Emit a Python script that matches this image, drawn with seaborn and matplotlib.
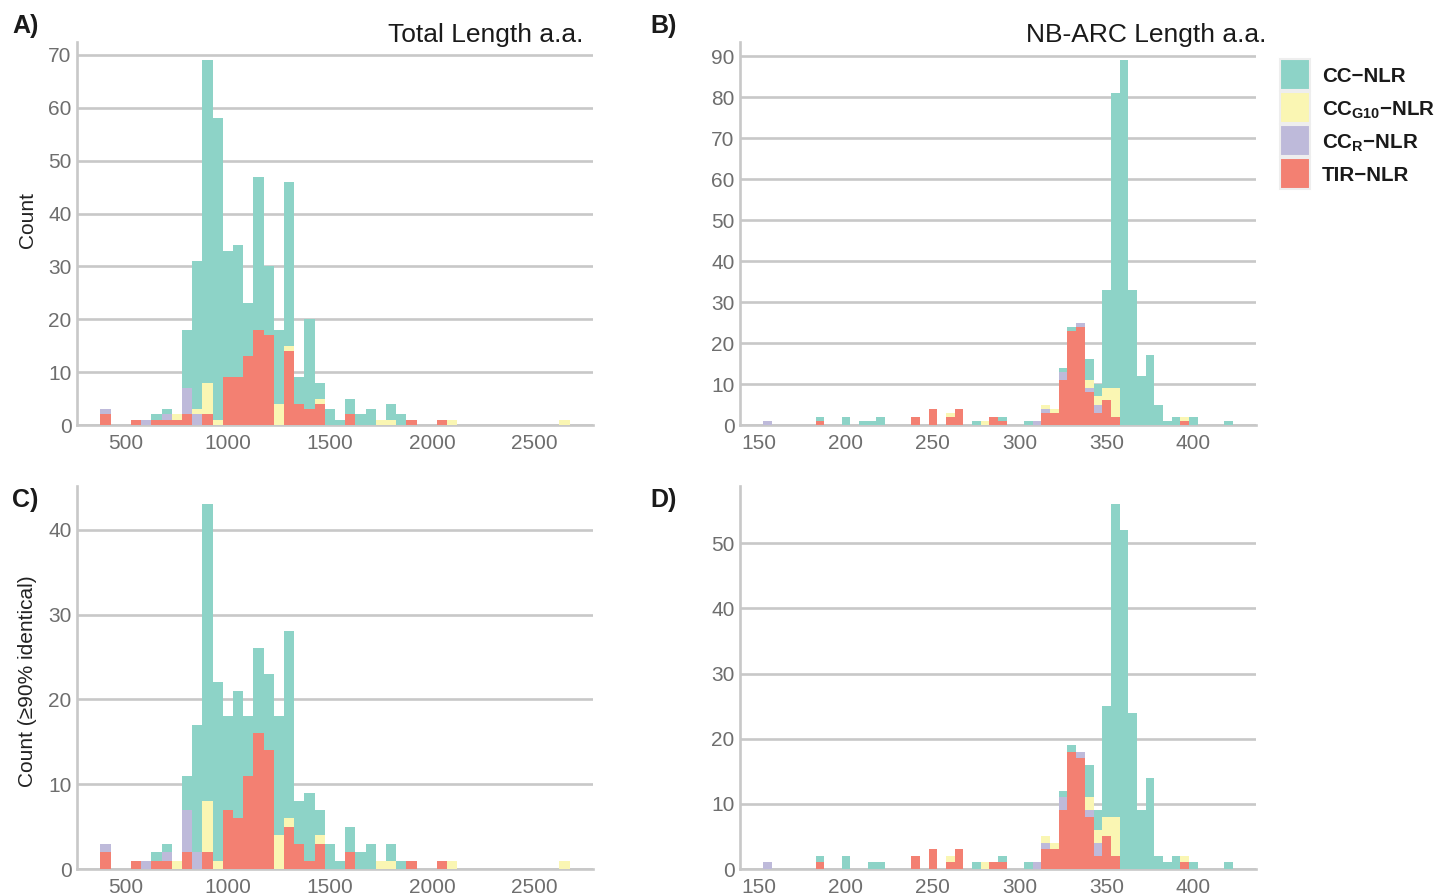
import matplotlib
matplotlib.use('Agg')
import matplotlib.pyplot as plt
from matplotlib.patches import Rectangle
from matplotlib.ticker import MultipleLocator
import pandas as pd
import seaborn as sns

# classes, bottom of the stack is the last one
classes = ['CC-NLR', 'CCG10-NLR', 'CCR-NLR', 'TIR-NLR']
colors = ['#8DD3C7', '#FAF6B3', '#BEBADA', '#F38072']
legend_labels = ['CC\u2212NLR', r'CC$_{\mathbf{G10}}$' + '\u2212NLR',
                 r'CC$_{\mathbf{R}}$' + '\u2212NLR', 'TIR\u2212NLR']

# counts per bin centre
# A) total length, all sequences (bins of 50 a.a.)
tot_cc = {650: 1, 700: 1, 800: 11, 850: 28, 900: 61, 950: 57, 1000: 24, 1050: 25,
          1100: 10, 1150: 29, 1200: 13, 1250: 14, 1300: 31, 1350: 5, 1400: 17,
          1450: 3, 1500: 3, 1550: 1, 1600: 3, 1650: 2, 1700: 3, 1800: 3, 1850: 2}
tot_g10 = {750: 1, 850: 1, 900: 6, 950: 1, 1250: 4, 1300: 1, 1450: 1, 1750: 1,
           1800: 1, 2100: 1, 2650: 1}
tot_r = {400: 1, 600: 1, 700: 1, 800: 5, 850: 2}
tot_tir = {400: 2, 550: 1, 650: 1, 700: 1, 750: 1, 800: 2, 900: 2, 1000: 9,
           1050: 9, 1100: 13, 1150: 18, 1200: 17, 1300: 14, 1350: 4, 1400: 3,
           1450: 4, 1600: 2, 1900: 1, 2050: 1}

# C) total length, >=90% identical
tot90_cc = {650: 1, 700: 1, 800: 4, 850: 15, 900: 35, 950: 21, 1000: 11, 1050: 15,
            1100: 7, 1150: 10, 1200: 9, 1250: 14, 1300: 22, 1350: 5, 1400: 8,
            1450: 3, 1500: 3, 1550: 1, 1600: 3, 1650: 2, 1700: 3, 1800: 2, 1850: 1}
tot90_g10 = {750: 1, 900: 6, 950: 1, 1250: 4, 1300: 1, 1450: 1, 1750: 1,
             1800: 1, 2100: 1, 2650: 1}
tot90_r = {400: 1, 600: 1, 700: 1, 800: 5, 850: 2}
tot90_tir = {400: 2, 550: 1, 650: 1, 700: 1, 800: 2, 900: 2, 1000: 7, 1050: 6,
             1100: 11, 1150: 16, 1200: 14, 1300: 5, 1350: 3, 1400: 1, 1450: 3,
             1600: 2, 1900: 1, 2050: 1}

# B) NB-ARC length, all sequences (bins of 5 a.a.)
nb_cc = {185: 1, 200: 2, 210: 1, 215: 1, 220: 2, 275: 1, 290: 1, 305: 1, 325: 1,
         330: 1, 340: 5, 345: 3, 350: 24, 355: 72, 360: 89, 365: 33, 370: 12,
         375: 17, 380: 5, 385: 1, 390: 2, 400: 2, 420: 1}
nb_g10 = {260: 1, 280: 1, 315: 1, 320: 1, 340: 2, 345: 2, 350: 3, 355: 7, 395: 1}
nb_r = {155: 1, 310: 1, 315: 1, 325: 2, 335: 1, 340: 1, 345: 2}
nb_tir = {185: 1, 240: 2, 250: 4, 260: 2, 265: 4, 285: 2, 290: 1, 315: 3, 320: 3,
          325: 11, 330: 23, 335: 24, 340: 8, 345: 3, 350: 6, 355: 2, 395: 1}

# D) NB-ARC length, >=90% identical
nb90_cc = {185: 1, 200: 2, 215: 1, 220: 1, 275: 1, 290: 1, 305: 1, 325: 1,
           330: 1, 340: 5, 345: 3, 350: 17, 355: 48, 360: 52, 365: 24, 370: 9,
           375: 14, 380: 2, 385: 1, 390: 2, 400: 1, 420: 1}
nb90_g10 = {260: 1, 280: 1, 315: 1, 320: 1, 340: 2, 345: 2, 350: 3, 355: 6, 395: 1}
nb90_r = {155: 1, 310: 1, 315: 1, 325: 2, 335: 1, 340: 1, 345: 2}
nb90_tir = {185: 1, 240: 2, 250: 3, 260: 1, 265: 3, 285: 1, 290: 1, 315: 3,
            320: 3, 325: 9, 330: 18, 335: 17, 340: 8, 345: 2, 350: 5, 355: 2,
            395: 1}


def make_df(cc, g10, r, tir):
    rows = []
    for name, d in zip(classes, [cc, g10, r, tir]):
        for k, v in d.items():
            rows.append({'length': k, 'cls': name, 'n': v})
    return pd.DataFrame(rows)


def top_count(df):
    return df.groupby('length')['n'].sum().max()


sns.set_style('white')
plt.rcParams['font.family'] = ['Liberation Sans', 'DejaVu Sans']
plt.rcParams['mathtext.fontset'] = 'custom'
plt.rcParams['mathtext.rm'] = 'Liberation Sans'
plt.rcParams['mathtext.bf'] = 'Liberation Sans:bold'

grid_col = '#C8C8C8'
tick_col = '#6E6E6E'

fig = plt.figure(figsize=(14.44, 8.96), dpi=100)
W, H = 1444, 896


def add_ax(x0, y0, x1, y1):
    return fig.add_axes([x0 / W, 1 - y1 / H, (x1 - x0) / W, (y1 - y0) / H])


axA = add_ax(77, 42, 593, 425)
axB = add_ax(740, 42, 1256, 425)
axC = add_ax(77, 486, 593, 869)
axD = add_ax(740, 486, 1256, 869)

panels = [
    (axA, make_df(tot_cc, tot_g10, tot_r, tot_tir), 50, (375, 2675), (260, 2790), 500),
    (axB, make_df(nb_cc, nb_g10, nb_r, nb_tir), 5, (152.5, 422.5), (139, 436), 50),
    (axC, make_df(tot90_cc, tot90_g10, tot90_r, tot90_tir), 50, (375, 2675), (260, 2790), 500),
    (axD, make_df(nb90_cc, nb90_g10, nb90_r, nb90_tir), 5, (152.5, 422.5), (139, 436), 50),
]

for ax, df, bw, br, xl, xstep in panels:
    sns.histplot(data=df, x='length', hue='cls', weights='n', hue_order=classes,
                 palette=colors, multiple='stack', binwidth=bw, binrange=br,
                 alpha=1, linewidth=0, legend=False, ax=ax, zorder=3)
    ax.set_xlim(*xl)
    ax.set_ylim(0, top_count(df) * 1.05)
    ax.xaxis.set_major_locator(MultipleLocator(xstep))
    ax.yaxis.set_major_locator(MultipleLocator(10))
    ax.grid(axis='y', color=grid_col, linewidth=1.9, zorder=0)
    ax.grid(axis='x', visible=False)
    ax.set_axisbelow(True)
    for s in ['top', 'right']:
        ax.spines[s].set_visible(False)
    for s in ['left', 'bottom']:
        ax.spines[s].set_color(grid_col)
        ax.spines[s].set_linewidth(1.9)
    ax.tick_params(axis='x', colors=tick_col, labelsize=15, length=3.5,
                   width=2, color=grid_col, pad=3)
    ax.tick_params(axis='y', colors=tick_col, labelsize=15, length=2,
                   width=1.5, color=grid_col, pad=2)
    ax.set_xlabel('')
    ax.set_ylabel('')

axA.set_ylabel('Count', fontsize=15, color='#222222')
axC.set_ylabel('Count (\u226590% identical)', fontsize=15, color='#222222')
axA.yaxis.set_label_coords(-0.078, 0.535)
axC.yaxis.set_label_coords(-0.078, 0.49)

axA.text(0.981, 1.0, 'Total Length a.a.', transform=axA.transAxes,
         ha='right', va='baseline', fontsize=19, color='#1A1A1A')
axB.text(1.021, 1.0, 'NB-ARC Length a.a.', transform=axB.transAxes,
         ha='right', va='baseline', fontsize=19, color='#1A1A1A')

for lab, x, y in [('A)', 12, 33), ('B)', 650, 33), ('C)', 12, 507), ('D)', 650, 507)]:
    fig.text(x / W, 1 - y / H, lab, fontsize=18, fontweight='bold',
             va='baseline', ha='left', color='#1A1A1A')

# legend drawn as keys + labels, ggplot style
key_x, key_y, key_w, key_h, key_step = 1280, 59, 30, 31, 33
for i, (c, lab) in enumerate(zip(colors, legend_labels)):
    top = key_y + i * key_step
    fig.add_artist(Rectangle((key_x / W, 1 - (top + key_h) / H), key_w / W, key_h / H,
                             transform=fig.transFigure, facecolor=c,
                             edgecolor='#EEEEEE', linewidth=1.5))
    fig.text((key_x + key_w + 12) / W, 1 - (top + key_h / 2) / H, lab,
             fontsize=14.8, fontweight='bold', va='center_baseline', ha='left',
             color='#1A1A1A')

fig.savefig('out.png', dpi=100)
